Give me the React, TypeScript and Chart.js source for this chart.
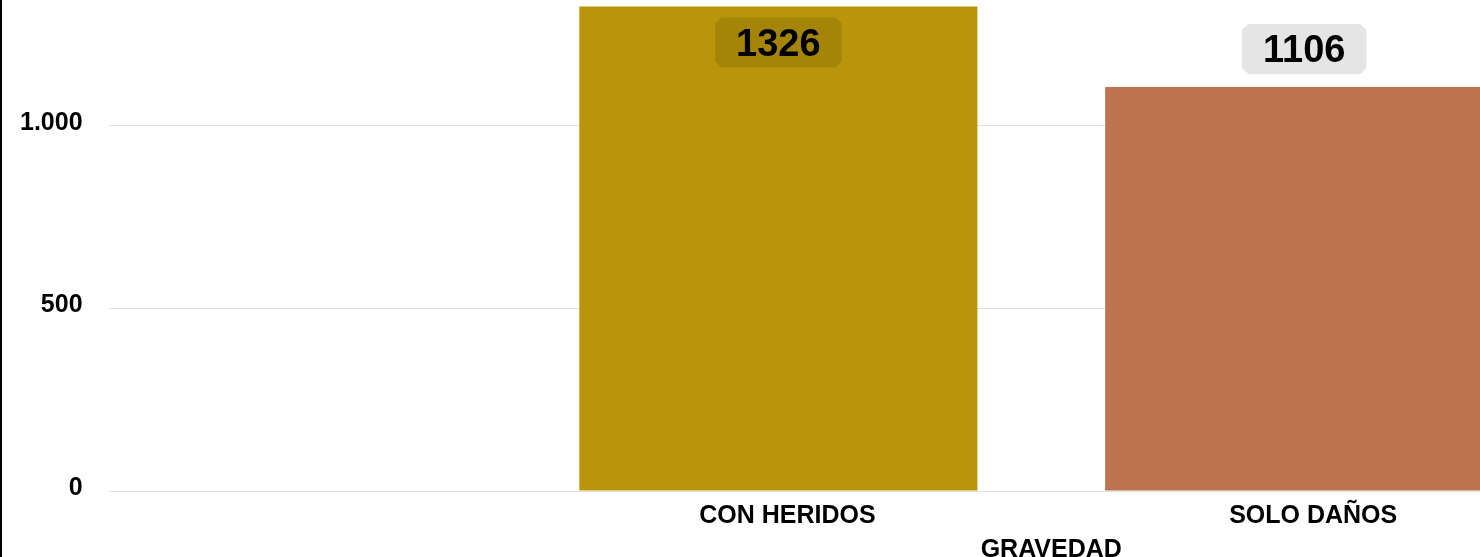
import React, { useEffect, useRef } from 'react';
import { Chart, registerables } from 'chart.js';

Chart.register(...registerables);

// ---- data ----
const CATEGORIES = ['CON HERIDOS', 'SOLO DAÑOS'];
const VALUES = [1326, 1106];
const BAR_COLORS = ['#B8950A', '#BE724D'];
const Y_MIN = 0;
const Y_MAX = 1500;
const Y_STEP = 500;
const X_TITLE = 'GRAVEDAD';

// ---- view (the reference shows a cropped part of a larger chart) ----
const VIEW_W = 1480;
const VIEW_H = 557;
const CANVAS_W = 2000;
const OFFSET_Y = 98;
const CANVAS_H = 663;

const FONT_FAMILY = '"Liberation Sans", Arial, Helvetica, sans-serif';

const fmt = (v: number) => String(Math.round(v)).replace(/\B(?=(\d{3})+(?!\d))/g, '.');

const valueLabelPlugin = {
  id: 'valueLabels',
  afterDatasetsDraw(chart: any) {
    const ctx = chart.ctx as CanvasRenderingContext2D;
    const meta = chart.getDatasetMeta(0);
    meta.data.forEach((bar: any, i: number) => {
      const text = String(VALUES[i]);
      ctx.save();
      ctx.font = `bold 38px ${FONT_FAMILY}`;
      const tw = ctx.measureText(text).width;
      const w = tw + 42;
      const h = 50;
      let top = bar.y - 13 - h;
      if (top < OFFSET_Y + 4) top = bar.y + 11;
      const left = bar.x - w / 2;
      const c = 6;
      ctx.beginPath();
      ctx.moveTo(left + c, top);
      ctx.lineTo(left + w - c, top);
      ctx.lineTo(left + w, top + c);
      ctx.lineTo(left + w, top + h - c);
      ctx.lineTo(left + w - c, top + h);
      ctx.lineTo(left + c, top + h);
      ctx.lineTo(left, top + h - c);
      ctx.lineTo(left, top + c);
      ctx.closePath();
      ctx.fillStyle = 'rgba(0,0,0,0.1)';
      ctx.fill();
      ctx.fillStyle = '#000';
      ctx.textAlign = 'center';
      ctx.textBaseline = 'middle';
      ctx.fillText(text, bar.x, top + h / 2 + 3);
      ctx.restore();
    });
  },
};

export default function App() {
  const ref = useRef<HTMLCanvasElement | null>(null);

  useEffect(() => {
    if (!ref.current) return;
    const tickFont = { family: FONT_FAMILY, size: 25, weight: 'bold' as const };
    const chart = new Chart(ref.current, {
      type: 'bar',
      data: {
        datasets: [
          {
            data: VALUES.map((v, i) => ({ x: i, y: v })),
            backgroundColor: BAR_COLORS,
            borderWidth: 0,
            categoryPercentage: 1,
            barPercentage: 0.757,
          },
        ],
      },
      options: {
        animation: false,
        responsive: false,
        devicePixelRatio: 1,
        layout: { padding: { left: -6, right: 6, top: 0, bottom: 0 } },
        plugins: {
          legend: { display: false },
          tooltip: { enabled: false },
        },
        scales: {
          x: {
            type: 'linear',
            offset: false,
            min: -1.2738,
            max: 2.3118,
            afterBuildTicks: (s: any) => {
              s.ticks = CATEGORIES.map((_, i) => ({ value: i }));
            },
            ticks: {
              autoSkip: false,
              maxRotation: 0,
              padding: 10,
              labelOffset: 9,
              color: '#000',
              font: tickFont,
              callback: (v: any) => CATEGORIES[v] ?? '',
            },
            grid: { display: false, drawTicks: false },
            border: { display: false },
            title: {
              display: true,
              text: X_TITLE,
              color: '#000',
              font: tickFont,
              padding: { top: -6, bottom: 0 },
            },
          },
          y: {
            min: Y_MIN,
            max: Y_MAX,
            ticks: {
              stepSize: Y_STEP,
              padding: 26,
              labelOffset: -3,
              color: '#000',
              font: tickFont,
              callback: (v: any) => fmt(Number(v)),
            },
            grid: { color: '#e2e2e2', lineWidth: 1, drawTicks: false },
            border: { display: false },
          },
        },
      } as any,
      plugins: [valueLabelPlugin],
    });
    return () => chart.destroy();
  }, []);

  return (
    <div
      style={{
        position: 'fixed',
        left: 0,
        top: 0,
        width: VIEW_W,
        height: VIEW_H,
        overflow: 'hidden',
        background: '#fff',
      }}
    >
      <canvas
        ref={ref}
        width={CANVAS_W}
        height={CANVAS_H}
        style={{ position: 'absolute', left: 0, top: -OFFSET_Y, width: CANVAS_W, height: CANVAS_H }}
      />
      <div style={{ position: 'absolute', left: 0, top: 0, width: 2, height: VIEW_H, background: '#000' }} />
    </div>
  );
}
